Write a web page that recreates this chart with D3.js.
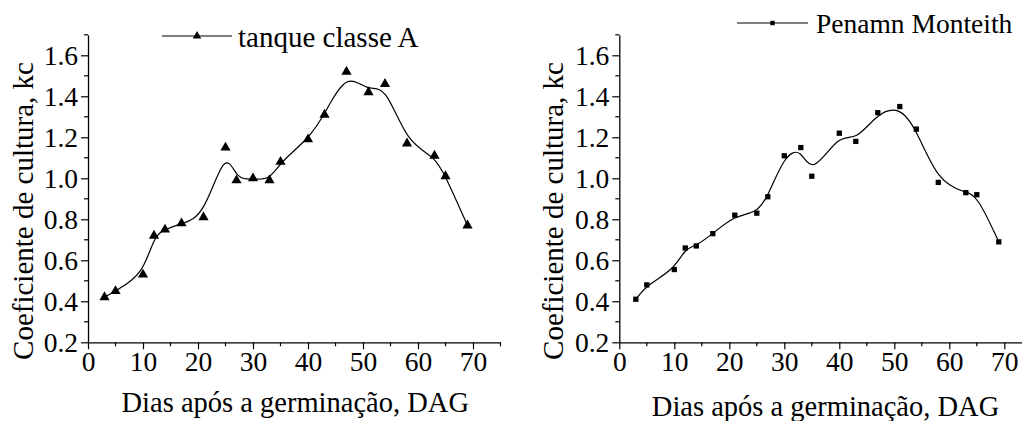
<!DOCTYPE html>
<html>
<head>
<meta charset="utf-8">
<script src="https://cdn.jsdelivr.net/npm/d3@7"></script>
<style>
  html, body { margin: 0; padding: 0; background: #fff; }
  svg { display: block; }
  svg text { font-family: "Liberation Serif", "Times New Roman", Times, "DejaVu Serif", serif !important; fill: #000; }
</style>
</head>
<body>
<svg id="chart" width="1022" height="421"></svg>
<script>
// ---- data ----
const daysTanque = [3, 5, 10, 12, 14, 17, 21, 25, 27, 30, 33, 35, 40, 43, 47, 51, 54, 58, 63, 65, 69];
const kcTanque   = [0.42, 0.45, 0.53, 0.72, 0.75, 0.78, 0.81, 1.15, 0.99, 1.00, 0.99, 1.08, 1.19, 1.31, 1.52, 1.42, 1.46, 1.17, 1.11, 1.01, 0.77];
const daysPM     = [3, 5, 10, 12, 14, 17, 21, 25, 27, 30, 33, 35, 40, 43, 47, 51, 54, 58, 63, 65, 69];
const kcPM       = [0.41, 0.48, 0.555, 0.66, 0.67, 0.73, 0.82, 0.83, 0.91, 1.11, 1.15, 1.01, 1.22, 1.18, 1.32, 1.35, 1.24, 0.98, 0.93, 0.92, 0.69];
const xTickValues = [0, 10, 20, 30, 40, 50, 60, 70];
const yTickValues = [0.2, 0.4, 0.6, 0.8, 1.0, 1.2, 1.4, 1.6];
const xTitle = "Dias após a germinação, DAG";
const yTitle = "Coeficiente de cultura, kc";
const legendTanque = "tanque classe A";
const legendPM = "Penamn Monteith";

const svg = d3.select("#chart");
const FS = 27.5;
const FONT = '"Liberation Serif", "Times New Roman", Times, "DejaVu Serif", serif';

function panel(opts) {
  const g = svg.append("g");
  const x = d3.scaleLinear().domain([0, 75]).range([opts.x0, opts.x0 + 412.5]);
  const y = d3.scaleLinear().domain([0.2, 1.7]).range([342.3, 34.8]);

  const xMinor = d3.range(5, 76, 10);
  const yMinor = d3.range(0.3, 1.71, 0.2);

  // x axis
  const xAxis = d3.axisBottom(x).tickValues(xTickValues).tickFormat(d3.format("d"))
    .tickSizeInner(7).tickSizeOuter(0).tickPadding(2);
  const xg = g.append("g").attr("transform", `translate(0,${y(0.2)})`).call(xAxis)
    .attr("font-family", FONT).attr("font-size", FS);
  xg.select(".domain").attr("stroke", "#000").attr("stroke-width", 1.3);
  xg.selectAll(".tick line").attr("stroke", "#000").attr("stroke-width", 1.2);
  xg.selectAll(".tick text").style("font-family", FONT).attr("font-size", FS);
  g.append("g").selectAll("line").data(xMinor).join("line")
    .attr("x1", d => x(d)).attr("x2", d => x(d))
    .attr("y1", y(0.2)).attr("y2", y(0.2) + 4)
    .attr("stroke", "#000").attr("stroke-width", 1.2);

  // y axis
  const yAxis = d3.axisLeft(y).tickValues(yTickValues).tickFormat(d3.format(".1f"))
    .tickSizeInner(7).tickSizeOuter(0).tickPadding(3);
  const yg = g.append("g").attr("transform", `translate(${x(0)},0)`).call(yAxis)
    .attr("font-family", FONT).attr("font-size", FS);
  yg.select(".domain").attr("stroke", "#000").attr("stroke-width", 1.3);
  yg.selectAll(".tick line").attr("stroke", "#000").attr("stroke-width", 1.2);
  yg.selectAll(".tick text").style("font-family", FONT).attr("font-size", FS);
  g.append("g").selectAll("line").data(yMinor).join("line")
    .attr("x1", x(0) - 4).attr("x2", x(0))
    .attr("y1", d => y(d)).attr("y2", d => y(d))
    .attr("stroke", "#000").attr("stroke-width", 1.2);

  // titles
  g.append("text").attr("x", (x(0) + x(75)) / 2 + opts.xTitleDx).attr("y", opts.xTitleY)
    .attr("text-anchor", "middle").attr("font-size", 28.5).style("font-family", FONT).text(xTitle);
  g.append("text").attr("transform", `translate(${opts.yTitleX},${211}) rotate(-90)`)
    .attr("text-anchor", "middle").attr("font-size", 29).style("font-family", FONT).text(yTitle);

  // curve
  const pts = opts.xs.map((d, i) => [x(d), y(opts.ys[i])]);
  g.append("path").attr("d", d3.line().curve(d3.curveBasis)(pts))
    .attr("fill", "none").attr("stroke", "#000").attr("stroke-width", 1.2);

  // markers
  const sym = d3.symbol().type(opts.symbol).size(opts.symSize);
  g.append("g").selectAll("path").data(pts).join("path")
    .attr("transform", d => `translate(${d[0]},${d[1]})`)
    .attr("d", sym).attr("fill", "#000");

  // legend
  const L = opts.legend;
  g.append("line").attr("x1", L.x1).attr("x2", L.x2).attr("y1", L.y).attr("y2", L.y)
    .attr("stroke", "#000").attr("stroke-width", 1.2);
  g.append("path").attr("transform", `translate(${(L.x1 + L.x2) / 2},${L.y})`)
    .attr("d", d3.symbol().type(opts.symbol).size(opts.symSize * 0.7)).attr("fill", "#000");
  g.append("text").attr("x", L.tx).attr("y", L.ty).attr("font-size", L.fs)
    .style("font-family", FONT).text(L.text);
}

panel({
  x0: 88, xs: daysTanque, ys: kcTanque, symbol: d3.symbolTriangle, symSize: 45,
  xTitleY: 412, xTitleDx: 1, yTitleX: 33,
  legend: { x1: 162, x2: 232, y: 36, tx: 238, ty: 47, fs: 29, text: legendTanque }
});
panel({
  x0: 619.3, xs: daysPM, ys: kcPM, symbol: d3.symbolSquare, symSize: 28,
  xTitleY: 416, xTitleDx: 0, yTitleX: 563,
  legend: { x1: 737, x2: 808, y: 23, tx: 816, ty: 33, fs: 27.5, text: legendPM }
});
</script>
</body>
</html>
